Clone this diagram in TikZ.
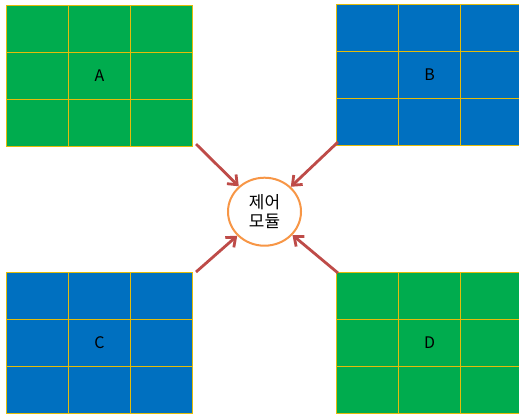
\documentclass[tikz,border=0pt]{standalone}
\usepackage{fontspec}
\setmainfont{Noto Sans CJK KR}
\usetikzlibrary{arrows.meta,calc,shapes.geometric}
\definecolor{boxgreen}{HTML}{00AC4E}
\definecolor{boxblue}{HTML}{0070C0}
\definecolor{gridgold}{HTML}{E3BC0A}
\definecolor{arrowred}{HTML}{BE4B48}
\definecolor{ringorange}{HTML}{F79646}
\begin{document}
\begin{tikzpicture}[x=1bp,y=-1bp,
  panel/.style={draw=gridgold, line width=1.1bp, minimum width=186bp, minimum height=141bp,
    inner sep=0pt, outer sep=0pt, anchor=north west, font=\fontsize{16}{16}\selectfont},
  gridl/.style={draw=gridgold, line width=1.1bp},
  ctrlbox/.style={ellipse, draw=ringorange, line width=2bp, fill=white, minimum width=73bp,
    minimum height=68bp, inner sep=0pt, align=center, font=\fontsize{17}{19}\selectfont},
  feed/.style={draw=arrowred, line width=2.8bp, -{Straight Barb[length=8bp,width=13bp]}}]
\useasboundingbox (0,0) rectangle (519,414);
\node[panel, fill=boxgreen] (A) at (6.5,5.5) {A};
\node[panel, fill=boxblue] (B) at (336.5,4.5) {B};
\node[panel, fill=boxblue] (C) at (6.5,272.5) {C};
\node[panel, fill=boxgreen] (D) at (336.5,272.5) {D};
\foreach \n in {A,B,C,D}{
  \foreach \r in {1,2}{
    \draw[gridl] ($(\n.north west)!\r/3!(\n.north east)$) -- ($(\n.south west)!\r/3!(\n.south east)$);
    \draw[gridl] ([yshift=-47*\r bp]\n.north west) -- ([yshift=-47*\r bp]\n.north east);
  }
}
\node[ctrlbox] (ctrl) at (264.5,211.7) {제어\\모듈};
\coordinate (a1) at (196,144);
\coordinate (b1) at (338,142);
\coordinate (c1) at (196,272);
\coordinate (d1) at (338,273);
\draw[feed] (a1) -- (ctrl);
\draw[feed] (b1) -- (ctrl);
\draw[feed] (c1) -- (ctrl);
\draw[feed] (d1) -- (ctrl);
\end{tikzpicture}
\end{document}
